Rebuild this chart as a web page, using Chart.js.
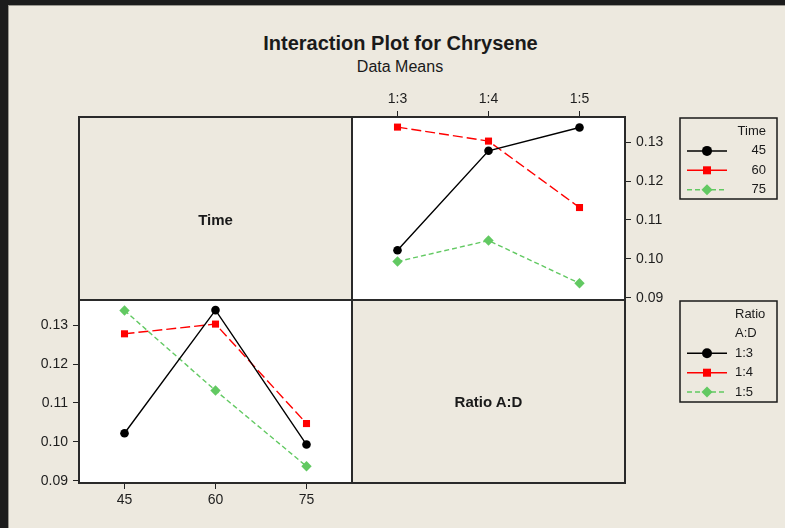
<!DOCTYPE html>
<html>
<head>
<meta charset="utf-8">
<script src="https://cdn.jsdelivr.net/npm/chart.js@4.4.1/dist/chart.umd.min.js"></script>
<style>
  html, body { margin: 0; padding: 0; }
  body {
    width: 785px; height: 528px; position: relative; overflow: hidden;
    background: #1c1c1c; color: #1a1a1a;
    font-family: "Liberation Sans", Arial, sans-serif;
  }
  #sheet {
    position: absolute; left: 8px; top: 5px; width: 777px; height: 523px;
    box-sizing: border-box; background: #ede9df;
    border-left: 1px solid #9a9890; border-top: 1px solid #9a9890;
  }
  canvas { position: absolute; left: 0; top: 0; }
  .rule { position: absolute; background: #2a2a2a; }
  .txt { position: absolute; white-space: nowrap; text-align: center; }
</style>
</head>
<body>
<div id="sheet"></div>

<div class="txt" style="left:0;width:801px;top:33px;font-size:20px;line-height:20px;font-weight:bold">Interaction Plot for Chrysene</div>
<div class="txt" style="left:0;width:800px;top:59px;font-size:16px;line-height:16px">Data Means</div>

<canvas id="ratioChart" width="785" height="528"></canvas>
<canvas id="timeChart" width="785" height="528"></canvas>

<!-- panel matrix -->
<div class="rule" style="left:78px;top:116px;width:548px;height:2px"></div>
<div class="rule" style="left:78px;top:299px;width:548px;height:2px"></div>
<div class="rule" style="left:78px;top:482px;width:548px;height:2px"></div>
<div class="rule" style="left:78px;top:116px;width:2px;height:368px"></div>
<div class="rule" style="left:351px;top:116px;width:2px;height:368px"></div>
<div class="rule" style="left:624px;top:116px;width:2px;height:368px"></div>

<div class="txt" style="left:80px;width:271px;top:212px;font-size:15px;line-height:15px;font-weight:bold">Time</div>
<div class="txt" style="left:353px;width:271px;top:394px;font-size:15px;line-height:15px;font-weight:bold">Ratio A:D</div>

<script>
const ratioLabels = ['1:3', '1:4', '1:5']
const timeLabels = ['45', '60', '75']
// cell means, one array per Time level, ordered by ratio 1:3, 1:4, 1:5
const time45 = [0.1022, 0.1278, 0.1338]
const time60 = [0.1339, 0.1303, 0.1132]
const time75 = [0.0993, 0.1047, 0.0937]
const yTicks = [0.09, 0.10, 0.11, 0.12, 0.13]
const yMin = 0.0894
const yMax = 0.1365

const styles = [
  { color: '#000000', pointStyle: 'circle', radius: 4.3, dash: [], legendDash: [], legendR: 5 },
  { color: '#ff0000', pointStyle: 'rect', radius: 5, dash: [10, 4], legendDash: [], legendR: 4 },
  { color: '#62c962', pointStyle: 'rectRot', radius: 5.2, dash: [5, 3], legendDash: [5, 3], legendR: 5.5 }
]

const fontFamily = '"Liberation Sans", Arial, sans-serif'
const tickFont = { family: fontFamily, size: 14 }
Chart.defaults.font.family = fontFamily

function makeDataset(label, data, style) {
  return {
    label: label,
    data: data,
    borderColor: style.color,
    backgroundColor: style.color,
    borderWidth: 1.4,
    borderDash: style.dash,
    pointStyle: style.pointStyle,
    pointRadius: style.radius,
    pointBackgroundColor: style.color,
    pointBorderColor: style.color,
    pointBorderWidth: 0,
    tension: 0,
    fill: false
  }
}

function yScale(position) {
  return {
    position: position,
    min: yMin,
    max: yMax,
    afterBuildTicks: s => { s.ticks = yTicks.map(v => ({ value: v })) },
    afterFit: s => { s.width = 50 },
    ticks: { callback: v => v.toFixed(2), padding: 5, color: '#1e1e1e', font: tickFont },
    grid: { drawOnChartArea: false, tickLength: 6, color: '#222' },
    border: { display: false }
  }
}

function xScale(position, labels) {
  return {
    type: 'category',
    position: position,
    labels: labels,
    offset: true,
    afterFit: s => { s.height = 30 },
    ticks: { padding: 3, color: '#1e1e1e', font: tickFont, maxRotation: 0 },
    grid: { drawOnChartArea: false, tickLength: 6, color: '#222' },
    border: { display: false }
  }
}

const plotBackground = {
  id: 'plotBackground',
  beforeDraw(chart) {
    const a = chart.chartArea
    chart.ctx.save()
    chart.ctx.fillStyle = '#ffffff'
    chart.ctx.fillRect(a.left, a.top, a.right - a.left, a.bottom - a.top)
    chart.ctx.restore()
  }
}

function drawMarker(ctx, style, x, y, r) {
  ctx.fillStyle = style.color
  ctx.beginPath()
  if (style.pointStyle === 'circle') {
    ctx.arc(x, y, r, 0, Math.PI * 2)
  } else if (style.pointStyle === 'rect') {
    ctx.rect(x - r, y - r, 2 * r, 2 * r)
  } else {
    ctx.moveTo(x, y - r)
    ctx.lineTo(x + r, y)
    ctx.lineTo(x, y + r)
    ctx.lineTo(x - r, y)
  }
  ctx.closePath()
  ctx.fill()
}

function drawLegend(ctx, box, titles, labels, textX, align) {
  ctx.save()
  ctx.strokeStyle = '#1a1a1a'
  ctx.lineWidth = 1.5
  ctx.strokeRect(box.x, box.y, box.w, box.h)
  ctx.font = '13px ' + fontFamily
  ctx.textAlign = align
  ctx.textBaseline = 'middle'
  let y = box.y + 13.5
  titles.forEach(t => {
    ctx.fillStyle = '#1a1a1a'
    ctx.fillText(t, textX, y)
    y += 19.4
  })
  labels.forEach((label, i) => {
    const s = styles[i]
    ctx.strokeStyle = s.color
    ctx.lineWidth = 1.5
    ctx.setLineDash(s.legendDash)
    ctx.beginPath()
    ctx.moveTo(box.x + 7, y)
    ctx.lineTo(box.x + 47, y)
    ctx.stroke()
    ctx.setLineDash([])
    drawMarker(ctx, s, box.x + 27, y, s.legendR)
    ctx.fillStyle = '#1a1a1a'
    ctx.fillText(label, textX, y)
    y += 19.4
  })
  ctx.restore()
}

const boxLegends = {
  id: 'boxLegends',
  afterDraw(chart) {
    const ctx = chart.ctx
    drawLegend(ctx, { x: 680, y: 118, w: 97, h: 81 }, ['Time'], timeLabels, 766, 'right')
    drawLegend(ctx, { x: 680, y: 301, w: 97, h: 101 }, ['Ratio', 'A:D'], ratioLabels, 735, 'left')
  }
}

// top right panel: x = ratio, one line per time
new Chart(document.getElementById('ratioChart'), {
  type: 'line',
  data: {
    labels: ratioLabels,
    datasets: [time45, time60, time75].map((d, i) => makeDataset(timeLabels[i], d, styles[i]))
  },
  options: {
    responsive: false,
    animation: false,
    devicePixelRatio: 1,
    layout: { padding: { left: 352, top: 87, right: 110, bottom: 228 } },
    scales: { x: xScale('top', ratioLabels), y: yScale('right') },
    plugins: { legend: { display: false }, tooltip: { enabled: false } }
  },
  plugins: [plotBackground, boxLegends]
})

// bottom left panel: x = time, one line per ratio
const byRatio = ratioLabels.map((r, j) => [time45[j], time60[j], time75[j]])
new Chart(document.getElementById('timeChart'), {
  type: 'line',
  data: {
    labels: timeLabels,
    datasets: byRatio.map((d, j) => makeDataset(ratioLabels[j], d, styles[j]))
  },
  options: {
    responsive: false,
    animation: false,
    devicePixelRatio: 1,
    layout: { padding: { left: 29, top: 300, right: 433, bottom: 15 } },
    scales: { x: xScale('bottom', timeLabels), y: yScale('left') },
    plugins: { legend: { display: false }, tooltip: { enabled: false } }
  },
  plugins: [plotBackground]
})
</script>
</body>
</html>
